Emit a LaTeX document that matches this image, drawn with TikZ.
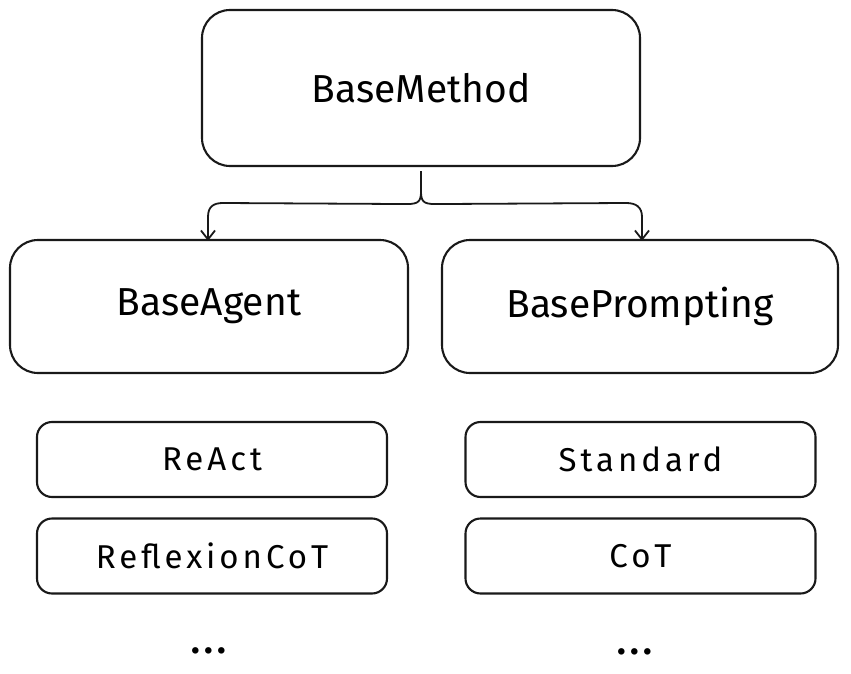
\documentclass[tikz,border=0pt]{standalone}
\usepackage{fontspec}
\setmainfont{Fira Sans}
\newfontfamily\smallfont[LetterSpace=12]{Fira Sans}
\usetikzlibrary{arrows.meta,calc}
\begin{document}
\begin{tikzpicture}[x=1pt,y=-1pt,
  bigbox/.style={draw=black!90,line width=2.1pt,rounded corners=28pt,fill=white,inner sep=0pt,
    font=\fontsize{39}{44}\selectfont},
  smallbox/.style={draw=black!90,line width=2.1pt,rounded corners=15pt,fill=white,inner sep=0pt,
    minimum width=350pt,minimum height=75pt,font=\smallfont\fontsize{33}{38}\selectfont},
  conn/.style={draw=black!90,line width=1.8pt,-{Straight Barb[length=9pt,width=14pt,line width=1.8pt]}},
  dotstyle/.style={font=\smallfont\fontsize{36}{40}\selectfont\bfseries}
]
\useasboundingbox (0,0) rectangle (851,674);
\node[bigbox,minimum width=438pt,minimum height=156pt] (bm) at (421,88) {BaseMethod};
\node[bigbox,minimum width=398pt,minimum height=133pt] (ba) at (209,306.5) {BaseAgent};
\node[bigbox,minimum width=396pt,minimum height=133pt] (bp) at (640,306.5) {BasePrompting};
\node[smallbox] (react) at (212,459.5) {ReAct};
\node[smallbox] (refl) at (212,556) {ReflexionCoT};
\node[smallbox] (std) at (640.5,459.5) {Standard};
\node[smallbox] (cot) at (640.5,556) {CoT};
\node[dotstyle] (d1) at (209,651) {...};
\node[dotstyle] (d2) at (635,652) {...};
\coordinate (stem) at ($(bm.south)+(0,4)$);
\draw[conn] (stem) -- ++(0,20) .. controls ++(0,10) and ++(12,0) .. ++(-14,13)
  -- ([xshift=14]ba.north |- 0,203) .. controls ++(-10,0) and ++(0,-10) .. ([xshift=-1]ba.north |- 0,217) -- ([xshift=-1,yshift=-2]ba.north);
\draw[conn] (stem) -- ++(0,20) .. controls ++(0,10) and ++(-12,0) .. ++(14,13)
  -- ([xshift=-14]bp.north |- 0,203) .. controls ++(10,0) and ++(0,-10) .. ([xshift=2]bp.north |- 0,217) -- ([xshift=2,yshift=-2]bp.north);
\end{tikzpicture}
\end{document}
